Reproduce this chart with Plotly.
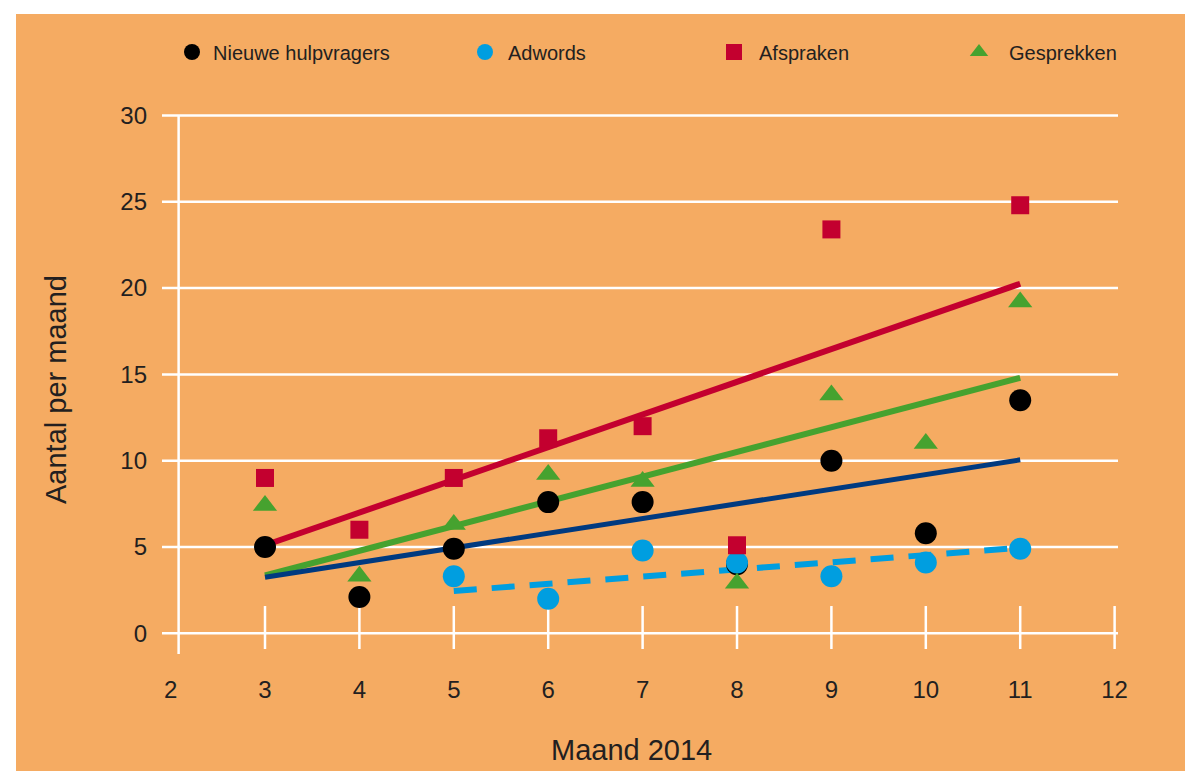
import plotly.graph_objects as go

# ---------------- data ----------------
months = [3, 4, 5, 6, 7, 8, 9, 10, 11]
nieuwe_hulpvragers = [5.0, 2.1, 4.9, 7.6, 7.6, 4.0, 10.0, 5.8, 13.5]
adwords = [None, None, 3.3, 2.0, 4.8, 4.1, 3.3, 4.1, 4.9]
afspraken = [9.0, 6.0, 9.0, 11.3, 12.0, 5.1, 23.4, None, 24.8]
gesprekken = [7.4, 3.3, 6.3, 9.2, 8.8, 2.9, 13.8, 11.0, 19.2]

trend_x = [3, 11]
trend_nieuwe = [3.25, 10.05]
trend_afspraken = [5.1, 20.25]
trend_gesprekken = [3.35, 14.8]
trend_adwords_x = [5, 11]
trend_adwords = [2.45, 4.95]

x_ticks = [2, 3, 4, 5, 6, 7, 8, 9, 10, 11, 12]
y_ticks = [0, 5, 10, 15, 20, 25, 30]

# ---------------- style ----------------
ORANGE = "#F5AB62"
RED = "#C3002F"
GREEN = "#46A22F"
NAVY = "#003A80"
BLUE = "#009EE0"
BLACK = "#000000"
TXT = "#231F20"
FONT = "Liberation Sans"

OFF = 0                     # page body margin (removed by post_script)
W, H = 1185, 771
ML, MT = 150 - OFF, 108 - OFF
MR, MB = 55 + OFF, 110 + OFF
PW, PH = W - ML - MR, H - MT - MB
X_RANGE = [1.7818, 12.163]
Y_RANGE = [-1.605, 30.434]
GRID_X = [1.909, 12.036]
AXIS_LINE_X = 2.085
TICK_SPAN = [1.58, -0.91]
AXIS_SPAN = [-1.2, 30]


def px_x(p):   # reference window px -> paper fraction
    return (p - OFF - ML) / PW


def px_y(p):
    return (H - MB - (p - OFF)) / PH


fig = go.Figure()

# trend lines
fig.add_trace(go.Scatter(x=trend_x, y=trend_afspraken, mode="lines",
                         line=dict(color=RED, width=6), showlegend=False, hoverinfo="skip"))
fig.add_trace(go.Scatter(x=trend_x, y=trend_gesprekken, mode="lines",
                         line=dict(color=GREEN, width=6), showlegend=False, hoverinfo="skip"))
fig.add_trace(go.Scatter(x=trend_x, y=trend_nieuwe, mode="lines",
                         line=dict(color=NAVY, width=5), showlegend=False, hoverinfo="skip"))
fig.add_trace(go.Scatter(x=trend_adwords_x, y=trend_adwords, mode="lines",
                         line=dict(color=BLUE, width=6, dash="23px,15px"),
                         showlegend=False, hoverinfo="skip"))

# markers
fig.add_trace(go.Scatter(x=months, y=nieuwe_hulpvragers, mode="markers", name="Nieuwe hulpvragers",
                         marker=dict(symbol="circle", size=22, color=BLACK, line=dict(width=0)),
                         legend="legend"))
fig.add_trace(go.Scatter(x=months, y=adwords, mode="markers", name="Adwords",
                         marker=dict(symbol="circle", size=22, color=BLUE, line=dict(width=0)),
                         legend="legend2"))
fig.add_trace(go.Scatter(x=months, y=afspraken, mode="markers", name="Afspraken",
                         marker=dict(symbol="square", size=18, color=RED, line=dict(width=0)),
                         legend="legend3"))
fig.add_trace(go.Scatter(x=months, y=gesprekken, mode="markers", name="Gesprekken",
                         marker=dict(symbol="triangle-up", size=21, color=GREEN, line=dict(width=0)),
                         legend="legend4"))

shapes = []
# orange panel
shapes.append(dict(type="rect", xref="paper", yref="paper",
                   x0=px_x(16), x1=1.3, y0=-0.4, y1=px_y(14),
                   fillcolor=ORANGE, line=dict(width=0), layer="below"))
# horizontal grid lines
for yv in y_ticks:
    shapes.append(dict(type="line", xref="x", yref="y", x0=GRID_X[0], x1=GRID_X[1], y0=yv, y1=yv,
                       line=dict(color="white", width=2.5), layer="below"))
# vertical axis line
shapes.append(dict(type="line", xref="x", yref="y", x0=AXIS_LINE_X, x1=AXIS_LINE_X,
                   y0=AXIS_SPAN[0], y1=AXIS_SPAN[1], line=dict(color="white", width=2.5), layer="below"))
# tick marks crossing the x axis
for xv in x_ticks[1:]:
    shapes.append(dict(type="line", xref="x", yref="y", x0=xv, x1=xv, y0=TICK_SPAN[0], y1=TICK_SPAN[1],
                       line=dict(color="white", width=2.5), layer="below"))


def leg(px, iw):
    return dict(x=(px - OFF) / W, xref="container", y=1 - (52 - OFF) / H, yref="container",
                xanchor="left", yanchor="middle", orientation="h", itemwidth=iw,
                bgcolor="rgba(0,0,0,0)", font=dict(family=FONT, size=20, color=TXT))


fig.update_layout(
    width=W, height=H, autosize=False,
    margin=dict(l=ML, r=MR, t=MT, b=MB, pad=0),
    paper_bgcolor="white", plot_bgcolor="rgba(0,0,0,0)",
    font=dict(family=FONT, color=TXT),
    shapes=shapes,
    legend=leg(192 - 21, 32),
    legend2=leg(485 - 23, 36),
    legend3=leg(734 - 25, 40),
    legend4=leg(979 - 30, 50),
    xaxis=dict(range=X_RANGE, tickvals=x_ticks, showgrid=False, zeroline=False, showline=False,
               ticks="", tickfont=dict(family=FONT, size=24, color=TXT), fixedrange=True,
               ticklabelstandoff=12),
    yaxis=dict(range=Y_RANGE, tickvals=y_ticks, showgrid=False, zeroline=False, showline=False,
               ticks="", tickfont=dict(family=FONT, size=24, color=TXT), fixedrange=True,
               ticklabelstandoff=2),
    annotations=[
        dict(text="Maand 2014", xref="paper", yref="paper",
             x=px_x(631), y=px_y(750),
             xanchor="center", yanchor="middle", showarrow=False,
             font=dict(family=FONT, size=29, color=TXT)),
        dict(text="Aantal per maand", xref="paper", yref="paper", textangle=-90,
             x=px_x(56), y=px_y(390),
             xanchor="center", yanchor="middle", showarrow=False,
             font=dict(family=FONT, size=29, color=TXT)),
    ],
)

fig.write_html("out.html", default_width=f"{W}px", default_height=f"{H}px",
               config={"displayModeBar": False},
               post_script="document.body.style.margin='0';document.body.style.overflow='hidden';")
